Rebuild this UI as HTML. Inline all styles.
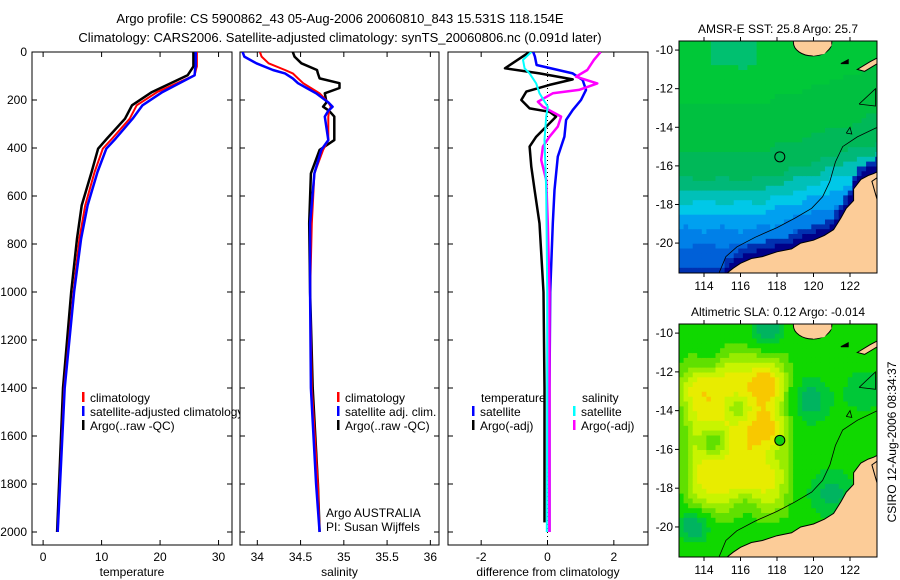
<!DOCTYPE html>
<html><head><meta charset="utf-8">
<style>
html,body{margin:0;padding:0;background:#fff;}
svg{display:block;font-family:"Liberation Sans",sans-serif;}
</style></head>
<body>
<svg id="fig" width="900" height="580" viewBox="0 0 900 580" xmlns="http://www.w3.org/2000/svg">
<rect width="900" height="580" fill="#fff"/>
<text x="340" y="23" font-size="13" text-anchor="middle">Argo profile: CS 5900862_43 05-Aug-2006 20060810_843 15.531S 118.154E</text>
<text x="340" y="42" font-size="13" text-anchor="middle">Climatology: CARS2006. Satellite-adjusted climatology: synTS_20060806.nc (0.091d later)</text>
<g id="p1"></g>
<g id="p2"></g>
<g id="p3"></g>
<g id="m1"></g>
<g id="m2"></g>
<text transform="translate(896,442) rotate(-90)" font-size="12" text-anchor="middle">CSIRO 12-Aug-2006 08:34:37</text>
</svg>
<script>
// ---------- data ----------
const depthTicks = [0,200,400,600,800,1000,1200,1400,1600,1800,2000];
const tempTicks = [0,10,20,30];
const salTicks = [34,34.5,35,35.5,36];
const diffTicks = [-2,0,2];

const tDepth = [0,60,68,97,167,222,278,361,403,500,639,778,1000,1400,2000];
const tArgo  = [25.7,25.7,25.5,24.7,18.6,15.2,14.0,10.9,9.4,8.3,6.6,5.8,4.8,3.4,2.4];
const tClim  = [26.3,26.3,26.2,25.9,19.5,16.0,14.8,11.8,10.2,8.8,7.2,6.2,5.2,3.6,2.5];
const tSat   = [26.1,26.1,26.0,25.9,20.4,17.0,15.3,12.4,10.8,9.3,7.6,6.5,5.3,3.7,2.5];

const sDepth = [0,19,47,75,89,110,130,150,172,210,228,245,269,367,408,506,714,1001,1400,1800,2000];
const sArgo  = [34.41,34.43,34.51,34.69,34.70,34.72,34.95,34.95,34.78,34.80,34.76,34.83,34.89,34.89,34.72,34.62,34.60,34.61,34.64,34.70,34.72];
const sClim  = [34.03,34.05,34.13,34.32,34.41,34.47,34.53,34.62,34.72,34.82,34.85,34.83,34.82,34.82,34.76,34.66,34.63,34.61,34.63,34.70,34.72];
const sSat   = [33.83,33.85,33.99,34.18,34.32,34.41,34.47,34.57,34.68,34.82,34.87,34.82,34.78,34.82,34.74,34.66,34.61,34.61,34.62,34.68,34.72];

const dTArgoDepth = [0,19,68,89,114,137,165,200,235,249,269,311,353,394,478,575,714,1001,1400,1800,1960];
const dTArgo = [-0.54,-0.75,-1.28,-0.24,0.76,0.06,-0.64,-0.79,-0.54,0.06,0.26,-0.04,-0.34,-0.54,-0.49,-0.39,-0.24,-0.12,-0.09,-0.09,-0.09];
const dTSatDepth = [0,19,54,89,117,158,200,242,283,353,436,575,714,1001,1400,2000];
const dTSat = [-0.43,-0.38,-0.33,0.76,1.06,1.16,1.01,0.76,0.56,0.51,0.31,0.21,0.16,0.08,0.06,0.06];
const dSArgoDepth = [0,33,75,103,131,158,172,207,228,269,311,353,394,450,533,714,1001,1400,2000];
const dSArgo = [1.60,1.40,1.20,0.86,1.50,0.95,0.16,-0.29,-0.14,0.41,0.31,0.06,-0.14,-0.19,-0.04,0.01,0.06,0.06,0.06];
const dSSatDepth = [0,33,68,89,131,172,228,269,367,575,1001,1400,2000];
const dSSat = [-0.49,-0.74,-0.69,-0.54,-0.34,-0.24,0.01,-0.04,-0.09,-0.04,-0.01,-0.01,-0.02];

const lonTicks = [114,116,118,120,122];
const latTicks = [-10,-12,-14,-16,-18,-20];
const argoLon = 118.154, argoLat = -15.531;

// ---------- helpers ----------
const NS = "http://www.w3.org/2000/svg";
function mk(parent, tag, attrs){ const e=document.createElementNS(NS,tag); for(const k in attrs) e.setAttribute(k,attrs[k]); parent.appendChild(e); return e; }
function txt(parent, x, y, s, anchor, size){ const t=mk(parent,'text',{x:x,y:y,'font-size':size||12,'text-anchor':anchor||'start'}); t.textContent=s; return t; }

const TOP=52, BOT=545;
const yD = d => TOP + d*0.24;

function panel(g, x0, x1, vmin, vmax, xticks, showDepth, xlabel, name){
  const xs = v => x0 + (v-vmin)/(vmax-vmin)*(x1-x0);
  const clipId = 'clip-'+name;
  const cp = mk(g,'clipPath',{id:clipId}); mk(cp,'rect',{x:x0,y:TOP,width:x1-x0,height:BOT-TOP});
  const box = mk(g,'rect',{x:x0,y:TOP,width:x1-x0,height:BOT-TOP,fill:'#fff',stroke:'#000','stroke-width':1});
  
  
  depthTicks.forEach(d=>{
    const y=yD(d);
    mk(g,'line',{x1:x0,y1:y,x2:x0+5,y2:y,stroke:'#000'});
    mk(g,'line',{x1:x1,y1:y,x2:x1-5,y2:y,stroke:'#000'});
    if(showDepth){
      const t=txt(g,27,y+4,String(d),'end');
      
      
    }
  });
  xticks.forEach(v=>{
    const x=xs(v);
    mk(g,'line',{x1:x,y1:TOP,x2:x,y2:TOP+5,stroke:'#000'});
    mk(g,'line',{x1:x,y1:BOT,x2:x,y2:BOT-5,stroke:'#000'});
    const t=txt(g,x,561,String(v),'middle');
    
    
  });
  const lab=txt(g,(x0+x1)/2,576,xlabel,'middle');
  
  
  return {xs, clipId};
}
function series(g, P, depths, vals, color, w, name){
  const pts = depths.map((d,i)=>P.xs(vals[i]).toFixed(1)+','+yD(d).toFixed(1)).join(' ');
  const l = mk(g,'polyline',{points:pts,fill:'none',stroke:color,'stroke-width':w,'clip-path':'url(#'+P.clipId+')','stroke-linejoin':'round'});
  
  
}
function legend(g, x, y, color, label){
  mk(g,'rect',{x:x,y:y-10,width:2.5,height:10,fill:color});
  const t=txt(g,x+8,y,label,'start');
  
  
  return t;
}

// ---------- panel 1 ----------
const g1=document.getElementById('p1');
const P1=panel(g1,32,232,-1.9,32.3,tempTicks,true,'temperature','temperature');
series(g1,P1,tDepth,tArgo,'#000',2.5,'argo-temperature-line');
series(g1,P1,tDepth,tClim,'#f00',2,'climatology-temperature-line');
series(g1,P1,tDepth,tSat,'#00f',2.5,'satellite-temperature-line');
legend(g1,82,402,'#f00','climatology');
legend(g1,82,416,'#00f','satellite-adjusted climatology');
legend(g1,82,430,'#000','Argo(..raw -QC)');

// ---------- panel 2 ----------
const g2=document.getElementById('p2');
const P2=panel(g2,240,439,33.80,36.10,salTicks,false,'salinity','salinity');
series(g2,P2,sDepth,sArgo,'#000',2.5,'argo-salinity-line');
series(g2,P2,sDepth,sClim,'#f00',2,'climatology-salinity-line');
series(g2,P2,sDepth,sSat,'#00f',2.5,'satellite-salinity-line');
legend(g2,337,402,'#f00','climatology');
legend(g2,337,416,'#00f','satellite adj. clim.');
legend(g2,337,430,'#000','Argo(..raw -QC)');
{const t=txt(g2,326,517,'Argo AUSTRALIA');  }
{const t=txt(g2,326,531,'PI: Susan Wijffels');  }

// ---------- panel 3 ----------
const g3=document.getElementById('p3');
const P3=panel(g3,448,648,-3.0,3.03,diffTicks,false,'difference from climatology','difference');
mk(g3,'line',{x1:P3.xs(0),y1:TOP,x2:P3.xs(0),y2:BOT,stroke:'#000','stroke-dasharray':'1,3'});
series(g3,P3,dTArgoDepth,dTArgo,'#000',2.5,'argo-temperature-difference-line');
series(g3,P3,dTSatDepth,dTSat,'#00f',2.5,'satellite-temperature-difference-line');
series(g3,P3,dSArgoDepth,dSArgo,'#f0f',2.5,'argo-salinity-difference-line');
series(g3,P3,dSSatDepth,dSSat,'#0ff',2,'satellite-salinity-difference-line');
{const t=txt(g3,481,402,'temperature');  }
{const t=txt(g3,582,402,'salinity');  }
legend(g3,472,416,'#00f','satellite');
legend(g3,472,430,'#000','Argo(-adj)');
legend(g3,573,416,'#0ff','satellite');
legend(g3,573,430,'#f0f','Argo(-adj)');

// ---------- maps ----------
const LON0=112.63, LON1=123.48, LAT0=-9.53, LAT1=-21.55;
const coast=[[115.2,-21.6],[115.6,-21.3],[116,-21.05],[116.6,-20.8],[117.2,-20.7],[118,-20.45],[118.8,-20.3],[119.3,-20.0],[120,-19.85],[120.6,-19.6],[121.1,-19.3],[121.5,-18.7],[121.8,-18.2],[122.2,-17.8],[122.2,-17.2],[122.6,-16.7],[123.0,-16.5],[123.3,-16.4],[123.5,-16.3],[123.5,-21.6]];
const islandPts=[[118.9,-9.4],[120.9,-9.4],[121.0,-9.75],[120.6,-10.2],[120.0,-10.3],[119.4,-10.1],[119.0,-9.8]];
const contour=[[114.8,-21.6],[115.2,-20.7],[115.8,-20.2],[116.8,-19.7],[118,-19.2],[119,-18.7],[119.9,-18.2],[120.5,-17.6],[120.9,-16.8],[121.2,-15.8],[121.6,-15.0],[122.4,-14.5],[123.5,-14.0]];
function coastLat(lon){ for(let i=0;i<coast.length-2;i++){ const a=coast[i],b=coast[i+1]; if(lon>=a[0]&&lon<=b[0]){ return a[1]+(b[1]-a[1])*(lon-a[0])/(b[0]-a[0]); } } return lon<115.2?-22:-16.3; }
function gauss(lon,lat,cx,cy,s){ return Math.exp(-(((lon-cx)/s)**2+((lat-cy)/s)**2)); }
function sstColor(lon,lat){
  const cl=coastLat(lon);
  if(lat<cl+0.35) return '#000088';
  if(lat<cl+0.7) return '#0030b0';
  const b=-17.3+Math.max(0,lon-117)*0.3;
  const v=lat-b+0.15*Math.sin(lon*3.1)*Math.cos(lat*2.3);
  if(v>6.5 && lon>114.5 && lon<117) return '#00c070';
  if(v>4.5) return '#00c838';
  if(v>2) return '#00c040';
  if(v>0.6) return '#00b858';
  if(v>0) return '#00b878';
  if(v>-0.6) return '#00c0b8';
  if(v>-1.2) return '#00c8e8';
  if(v>-2) return '#00a0f0';
  if(v>-2.8) return '#0080e8';
  return '#0060d8';
}
function slaColor(lon,lat){
  let f=Math.exp(-(((lon-115.8)/2.9)**6))*Math.exp(-(((lat+15.2)/4.3)**6));
  f+=0.3*gauss(lon,lat,112.8,-13,1.0)+0.25*gauss(lon,lat,117.5,-12.6,0.8)+0.15*gauss(lon,lat,117.4,-14.9,0.7);
  f-=0.7*gauss(lon,lat,114.5,-15.6,0.8)+0.45*gauss(lon,lat,115.8,-13.9,0.7)+0.4*gauss(lon,lat,114.2,-11.3,0.8)+0.6*gauss(lon,lat,113.5,-19.8,0.9)+0.35*gauss(lon,lat,116.3,-18.9,0.8)+0.25*gauss(lon,lat,117.8,-16.3,0.6)+0.5*gauss(lon,lat,117.5,-10.0,0.9);
  f-=0.4*gauss(lon,lat,119.8,-13.5,1.2)+0.35*gauss(lon,lat,121,-18.3,1.4)+0.3*gauss(lon,lat,122.8,-13,1.2);
  if(f>1.0) return '#f8c800';
  if(f>0.85) return '#e8ec00';
  if(f>0.65) return '#c8f400';
  if(f>0.45) return '#98ec00';
  if(f>0.2) return '#60e000';
  if(f>-0.15) return '#10d800';
  if(f>-0.3) return '#00c838';
  return '#00b460';
}
function drawMap(g, y0, y1, colorFn, title, filledMarker){
  const x0=679, x1=877;
  const X = lon => x0+(lon-LON0)/(LON1-LON0)*(x1-x0);
  const Y = lat => y0+(lat-LAT0)/(LAT1-LAT0)*(y1-y0);
  const cp=mk(g,'clipPath',{id:'clip'+y0}); mk(cp,'rect',{x:x0,y:y0,width:x1-x0,height:y1-y0});
  const cg=mk(g,'g',{'clip-path':'url(#clip'+y0+')'});
  const step=0.25;
  for(let lon=LON0;lon<LON1;lon+=step){
    for(let lat=LAT0;lat>LAT1;lat-=step){
      mk(cg,'rect',{x:X(lon).toFixed(1),y:Y(lat).toFixed(1),width:(X(lon+step)-X(lon)+0.6).toFixed(1),height:(Y(lat-step)-Y(lat)+0.6).toFixed(1),fill:colorFn(lon+step/2,lat-step/2)});
    }
  }
  const poly = pts => pts.map(p=>X(p[0]).toFixed(1)+','+Y(p[1]).toFixed(1)).join(' ');
  const land=mk(cg,'polygon',{points:poly(coast),fill:'#fccc98',stroke:'#000','stroke-width':1});
  
  
  mk(cg,'polygon',{points:poly([[122.4,-11.0],[123.1,-10.6],[123.5,-10.4],[123.5,-10.7],[122.8,-11.1]]),fill:'#fccc98',stroke:'#000'});
  mk(cg,'polygon',{points:poly([[121.5,-10.7],[121.9,-10.5],[121.9,-10.7]]),fill:'#000',stroke:'#000'});
  mk(cg,'polygon',{points:poly([[123.5,-17.8],[123.2,-16.8],[123.5,-16.6]]),fill:'#fccc98',stroke:'#000'});
  mk(cg,'polyline',{points:poly(contour),fill:'none',stroke:'#000','stroke-width':0.8});
  mk(cg,'polyline',{points:poly([[122.5,-12.8],[123.4,-12.0],[123.4,-12.9],[122.5,-12.8]]),fill:'none',stroke:'#000','stroke-width':0.8});
  mk(cg,'polyline',{points:poly([[121.8,-14.3],[122.0,-14.0],[122.1,-14.35],[121.8,-14.3]]),fill:'none',stroke:'#000','stroke-width':0.8});
  const ie=mk(cg,'ellipse',{cx:X(119.95).toFixed(1),cy:Y(-9.6).toFixed(1),rx:((X(121)-X(118.9))/2).toFixed(1),ry:(Y(-10.3)-Y(-9.6)).toFixed(1),fill:'#fccc98',stroke:'#000','stroke-width':1});
  
  
  mk(cg,'polygon',{points:poly(islandPts),fill:'#fccc98',stroke:'none'});
  mk(g,'rect',{x:x0,y:y0,width:x1-x0,height:y1-y0,fill:'none',stroke:'#000'});
  const m=mk(g,'circle',{cx:X(argoLon),cy:Y(argoLat),r:5,fill:filledMarker?'#10d010':'none',stroke:'#000','stroke-width':1});
  
  
  latTicks.forEach(v=>{
    const y=Y(v);
    mk(g,'line',{x1:x0,y1:y,x2:x0-4,y2:y,stroke:'#000'});
    const t=txt(g,x0-6,y+4,String(v),'end');
    
    
  });
  lonTicks.forEach(v=>{
    const x=X(v);
    mk(g,'line',{x1:x,y1:y1,x2:x,y2:y1+4,stroke:'#000'});
    mk(g,'line',{x1:x,y1:y0,x2:x,y2:y0-4,stroke:'#000'});
    const t=txt(g,x,y1+17,String(v),'middle');
    
    
  });
  const tt=txt(g,(x0+x1)/2,y0-8,title,'middle');
  
  
}
drawMap(document.getElementById('m1'),41,273,sstColor,'AMSR-E SST: 25.8 Argo: 25.7',false);
drawMap(document.getElementById('m2'),324,557,slaColor,'Altimetric SLA: 0.12 Argo: -0.014',true);
</script>
</body></html>
